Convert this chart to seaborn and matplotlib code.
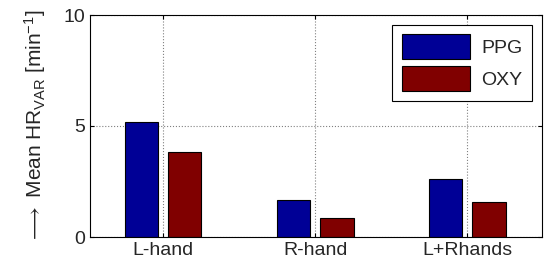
import pandas as pd
import seaborn as sns
import matplotlib.pyplot as plt

# valores
categories = ['L-hand', 'R-hand', 'L+Rhands']
ppg = [5.17, 1.67, 2.61]
oxy = [3.81, 0.87, 1.58]

df = pd.DataFrame({
    'cat': categories * 2,
    'val': ppg + oxy,
    'serie': ['PPG'] * 3 + ['OXY'] * 3,
})

sns.set_style('white')
plt.rcParams['font.family'] = ['Liberation Sans', 'DejaVu Sans']
plt.rcParams['mathtext.fontset'] = 'custom'
plt.rcParams['mathtext.rm'] = 'Liberation Sans'
plt.rcParams['mathtext.it'] = 'Liberation Sans'
plt.rcParams['mathtext.default'] = 'regular'

fig = plt.figure(figsize=(5.44, 2.71), dpi=100)
ax = fig.add_axes([90 / 544, 1 - 237 / 271, 452 / 544, 222 / 271])

sns.barplot(data=df, x='cat', y='val', hue='serie', order=categories,
            hue_order=['PPG', 'OXY'], palette=['#000096', '#800000'],
            saturation=1, width=0.57, gap=0.23, edgecolor='black',
            linewidth=0.8, ax=ax)

ax.set_xlim(-0.48, 2.49)
ax.set_ylim(0, 10)
ax.set_yticks([0, 5, 10])
ax.set_xlabel('')
ax.set_ylabel(r'$\longrightarrow$ Mean HR$_{VAR}$ [min$^{-1}$]', fontsize=15, labelpad=11)
ax.tick_params(axis='both', labelsize=14, direction='in', length=3,
               top=True, right=True, bottom=True, left=True, color='black')
ax.grid(True, linestyle=':', color='#808080', linewidth=0.8)
ax.set_axisbelow(True)
for s in ax.spines.values():
    s.set_color('black')
    s.set_linewidth(0.8)

leg = ax.legend(loc='upper right', fontsize=14, frameon=True, fancybox=False,
                edgecolor='black', handlelength=3.5, handleheight=1.6,
                borderaxespad=0.5, labelspacing=0.35, handletextpad=0.6,
                borderpad=0.5, framealpha=1)
leg.get_frame().set_linewidth(0.8)

fig.savefig('out.png', dpi=100)
